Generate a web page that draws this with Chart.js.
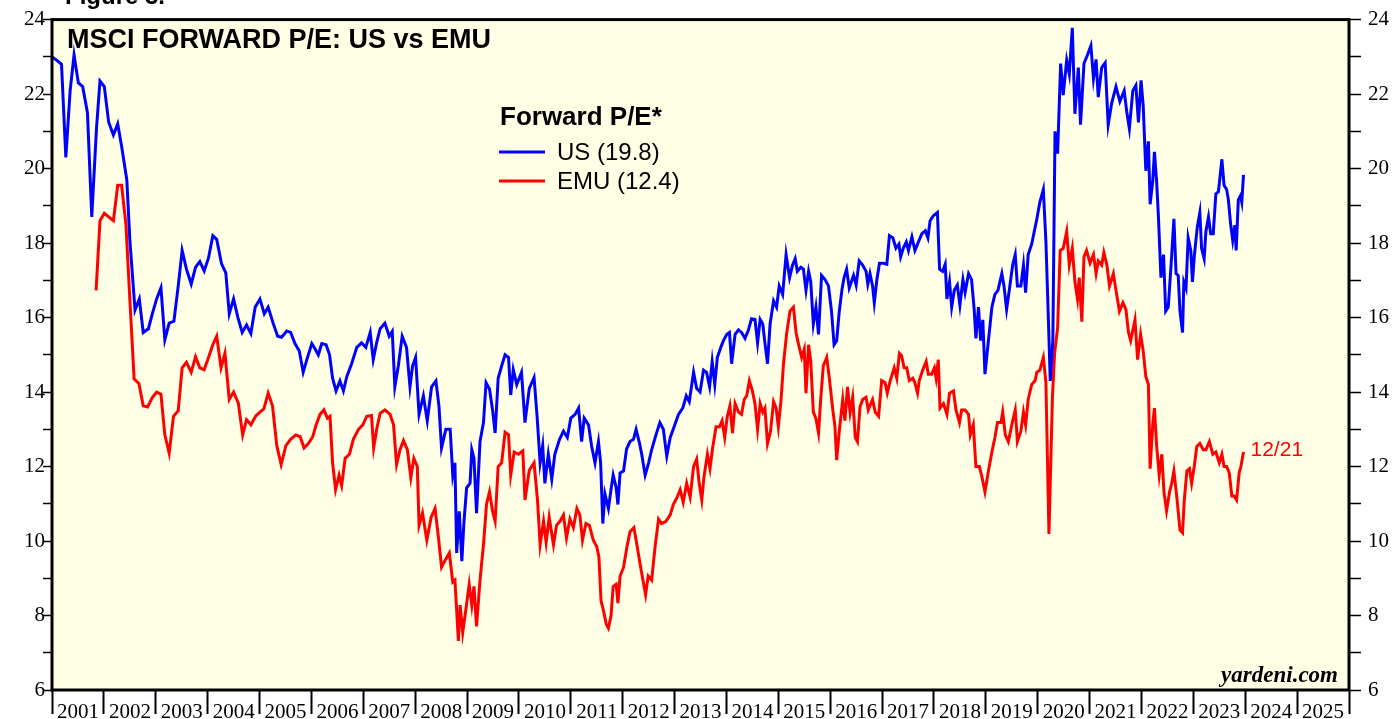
<!DOCTYPE html>
<html>
<head>
<meta charset="utf-8">
<script src="https://cdn.jsdelivr.net/npm/chart.js@4.4.0/dist/chart.umd.min.js"></script>
<style>
  html, body { margin: 0; padding: 0; background: #fff; }
  #wrap { position: relative; width: 1393px; height: 719px; }
</style>
</head>
<body>
<div id="wrap"><canvas id="peChart" width="1393" height="719"></canvas></div>
<script>
// months after Jan 2001 (x) and forward P/E (y)
var usMonth = [0, 1.2, 2.2, 3.2, 4.2, 5.1, 6.1, 7.1, 8.2, 9.2, 10.3, 11.1, 12.1, 13.1, 14.2, 15.2, 16.1, 17.3, 18.0, 19.2,
  20.2, 21.1, 22.3, 23.2, 24.2, 25.2, 26.1, 27.1, 28.2, 29.2, 30.1, 31.1, 32.2, 33.2, 34.2, 35.2, 36.2, 37.2, 38.1, 39.2,
  40.2, 41.0, 42.0, 43.0, 44.0, 45.0, 46.0, 47.0, 48.1, 49.1, 50.0, 51.2, 52.2, 53.1, 54.3, 55.2, 56.2, 57.2, 58.1, 59.1,
  60.1, 60.9, 61.6, 62.4, 63.4, 64.2, 64.9, 65.7, 66.6, 67.4, 68.2, 69.3, 70.5, 71.6, 72.6, 73.6, 74.3, 75.1, 75.9, 77.0,
  78.0, 78.7, 79.3, 80.1, 81.0, 82.0, 82.8, 83.4, 84.1, 84.9, 85.9, 86.8, 87.8, 88.8, 89.5, 90.1, 91.1, 92.1, 92.7, 93.2,
  93.6, 94.2, 94.8, 95.3, 95.9, 96.7, 97.1, 97.6, 98.2, 99.0, 99.8, 100.4, 101.2, 101.9, 102.5, 103.2, 104.0, 104.8, 105.6, 106.1,
  106.7, 107.5, 108.6, 109.4, 110.4, 111.5, 112.2, 112.9, 113.5, 114.0, 114.8, 115.6, 116.3, 117.4, 118.3, 119.2, 120.0, 121.0, 121.8, 122.5,
  123.1, 124.1, 124.8, 125.6, 126.4, 126.9, 127.4, 127.9, 128.7, 129.3, 129.8, 130.5, 130.9, 131.4, 132.2, 132.9, 133.7, 134.5, 135.1, 135.9,
  136.4, 137.2, 138.0, 138.7, 139.7, 140.6, 141.4, 142.2, 143.0, 143.9, 144.9, 145.9, 146.7, 147.4, 148.4, 149.1, 149.9, 150.7, 151.4, 152.1,
  152.7, 153.3, 153.9, 154.7, 155.3, 156.1, 156.7, 157.2, 158.0, 158.8, 159.5, 160.3, 161.1, 161.8, 162.6, 163.2, 163.8, 164.4, 164.9, 165.5,
  166.1, 166.9, 167.6, 168.2, 169.0, 169.8, 170.6, 171.3, 171.9, 172.4, 173.2, 173.8, 174.4, 175.0, 175.5, 176.1, 176.7, 177.3, 178.0, 178.8,
  179.6, 180.3, 180.9, 181.5, 182.1, 182.7, 183.2, 183.8, 184.4, 185.4, 186.0, 186.7, 187.5, 188.3, 188.7, 189.2, 189.8, 190.2, 190.8, 191.4,
  192.2, 193.1, 193.7, 194.5, 195.2, 195.9, 196.3, 196.9, 197.6, 198.1, 198.9, 199.6, 200.4, 201.2, 202.0, 202.6, 203.1, 203.9, 204.8, 205.3,
  206.0, 206.6, 207.0, 207.6, 208.1, 208.7, 209.4, 210.0, 210.7, 211.2, 212.0, 212.7, 213.3, 213.7, 214.3, 214.8, 215.3, 215.8, 216.6, 217.4,
  218.1, 218.8, 219.7, 220.2, 220.8, 221.5, 222.2, 222.8, 223.3, 224.1, 224.7, 225.2, 225.8, 226.6, 227.2, 227.8, 228.5, 229.3, 229.9, 230.5,
  230.9, 231.5, 232.0, 232.6, 233.3, 233.9, 234.7, 235.3, 236.0, 236.6, 237.4, 237.9, 238.7, 239.5, 240.3, 240.9, 241.5, 242.0, 242.8, 243.6,
  244.3, 245.1, 246.1, 247.0, 248.0, 248.6, 249.2, 250.0, 250.7, 251.3, 251.9, 252.4, 253.0, 253.6, 254.0, 254.6, 255.0, 255.5, 255.9, 256.5,
  257.1, 257.6, 258.2, 259.0, 259.5, 260.0, 260.5, 260.9, 261.5, 261.8, 262.3, 262.8, 263.4, 263.8, 264.2, 264.9, 265.5, 265.9, 266.5, 266.9,
  267.5, 268.0, 268.6, 269.2, 269.8, 270.6, 271.1, 271.7, 272.1, 272.6, 273.1, 273.6, 273.9, 274.4, 274.9, 275.2, 275.6];
var usPE = [23.0, 22.9, 22.8, 20.3, 22.1, 23.05, 22.3, 22.2, 21.5, 18.7, 21.1, 22.35, 22.2, 21.25, 20.9, 21.2, 20.6, 19.7, 18.1, 16.2,
  16.5, 15.6, 15.7, 16.1, 16.5, 16.8, 15.4, 15.85, 15.9, 16.85, 17.8, 17.3, 16.9, 17.35, 17.5, 17.25, 17.6, 18.2, 18.1, 17.45,
  17.2, 16.1, 16.5, 16.0, 15.6, 15.8, 15.57, 16.28, 16.5, 16.1, 16.28, 15.83, 15.5, 15.47, 15.64, 15.6, 15.3, 15.1, 14.53, 14.93,
  15.3, 15.15, 15.0, 15.3, 15.27, 15.0, 14.37, 14.03, 14.3, 14.03, 14.42, 14.76, 15.2, 15.32, 15.2, 15.6, 14.87, 15.33, 15.7, 15.85,
  15.5, 15.63, 14.14, 14.7, 15.5, 15.2, 14.14, 14.7, 14.93, 13.4, 13.9, 13.23, 14.14, 14.3, 13.63, 12.5, 13.0, 13.0, 11.77, 12.1,
  9.68, 10.8, 9.46, 10.53, 11.43, 11.55, 12.45, 12.22, 10.75, 12.67, 13.18, 14.25, 14.08, 13.52, 12.9, 14.37, 14.7, 15.0, 14.93, 13.92,
  14.6, 14.2, 14.53, 13.18, 14.1, 14.39, 13.35, 12.1, 12.56, 11.55, 12.33, 11.66, 12.33, 12.73, 12.95, 12.78, 13.3, 13.4, 13.57, 12.67,
  13.3, 13.12, 12.56, 12.1, 12.67, 12.1, 10.47, 11.26, 10.87, 11.38, 11.77, 11.43, 10.98, 11.83, 11.88, 12.47, 12.67, 12.73, 13.0, 12.62,
  12.33, 11.77, 12.1, 12.45, 12.85, 13.18, 13.0, 12.28, 12.78, 13.07, 13.4, 13.57, 13.9, 13.74, 14.53, 14.1, 14.0, 14.59, 14.53, 14.14,
  14.82, 14.2, 14.93, 15.2, 15.38, 15.55, 15.6, 14.76, 15.55, 15.67, 15.6, 15.44, 15.67, 15.97, 15.95, 15.32, 15.95, 15.83, 15.32, 14.76,
  15.83, 16.45, 16.28, 16.85, 16.62, 17.69, 17.07, 17.41, 17.58, 17.24, 17.35, 17.3, 16.73, 17.24, 16.96, 15.83, 16.28, 15.55, 17.13, 17.02,
  16.85, 16.17, 15.27, 15.38, 16.17, 16.73, 17.07, 17.3, 16.79, 17.13, 16.87, 17.52, 17.41, 17.24, 16.9, 17.18, 16.85, 16.4, 17.02, 17.46,
  17.46, 17.43, 18.2, 18.14, 17.86, 17.97, 17.63, 17.86, 18.03, 17.8, 18.17, 17.8, 18.03, 18.25, 18.33, 18.14, 18.6, 18.74, 18.82, 17.3,
  17.24, 17.43, 16.5, 16.96, 16.28, 16.73, 16.87, 16.33, 17.02, 16.67, 17.18, 17.02, 16.22, 15.44, 16.28, 15.38, 15.94, 14.48, 15.38, 16.28,
  16.62, 16.73, 17.18, 16.85, 16.22, 16.8, 17.41, 17.69, 16.85, 16.85, 17.41, 16.67, 17.69, 17.97, 18.31, 18.65, 19.1, 19.44, 18.03, 15.83,
  14.3, 15.38, 21.0, 20.4, 22.82, 21.97, 22.91, 22.54, 23.78, 21.47, 22.71, 21.18, 22.82, 23.05, 23.3, 22.42, 22.93, 21.92, 22.71, 22.84,
  21.18, 21.75, 22.2, 21.8, 22.09, 21.52, 21.07, 22.09, 22.23, 21.24, 22.37, 21.69, 19.94, 20.73, 19.04, 19.66, 20.45, 19.66, 18.76, 17.07,
  17.69, 16.17, 16.28, 17.69, 18.65, 17.18, 17.13, 16.17, 15.6, 16.96, 16.79, 18.14, 17.8, 16.96, 17.63, 18.42, 18.82, 17.86, 17.58, 18.31,
  18.7, 18.25, 18.25, 19.32, 19.38, 20.25, 19.55, 19.44, 19.16, 18.53, 18.08, 18.48, 17.8, 19.16, 19.27, 19.1, 19.83];

var emuMonth = [10.2, 11.1, 12.1, 14.2, 15.2, 16.1, 17.1, 18.0, 19.0, 20.1, 21.1, 22.1, 23.2, 24.2, 25.2, 26.1, 27.1, 28.1, 29.2, 30.1,
  31.1, 32.2, 33.2, 34.2, 35.2, 36.2, 37.2, 38.1, 39.1, 40.0, 41.0, 42.0, 43.1, 44.1, 45.0, 46.0, 47.1, 48.1, 49.0, 50.0,
  51.0, 52.0, 53.0, 54.1, 55.2, 56.4, 57.4, 58.3, 59.3, 60.3, 61.1, 62.0, 62.9, 63.7, 64.3, 64.9, 65.6, 66.4, 67.0, 67.8,
  68.8, 69.7, 70.9, 71.9, 72.8, 73.9, 74.4, 75.1, 75.9, 77.0, 78.2, 79.0, 79.7, 80.5, 81.3, 82.2, 83.0, 83.7, 84.5, 84.9,
  85.7, 86.7, 87.7, 88.6, 89.4, 90.1, 91.1, 91.9, 92.7, 93.2, 94.0, 94.4, 95.0, 95.8, 96.5, 97.1, 97.6, 98.2, 99.0, 99.8,
  100.5, 101.2, 101.9, 102.5, 103.2, 104.0, 104.8, 105.6, 106.1, 106.9, 107.9, 108.9, 109.4, 110.4, 111.5, 112.3, 112.9, 113.7, 114.3, 115.0,
  116.0, 116.7, 117.5, 118.3, 119.0, 119.8, 120.6, 121.4, 122.1, 122.7, 123.5, 124.3, 125.2, 126.0, 126.5, 127.0, 127.5, 128.2, 128.7, 129.3,
  129.8, 130.5, 130.9, 131.4, 132.2, 133.0, 133.7, 134.6, 135.2, 136.0, 136.6, 137.3, 137.9, 138.7, 139.5, 140.3, 141.0, 142.0, 143.0, 143.7,
  144.5, 145.3, 146.0, 146.8, 147.6, 148.4, 149.1, 149.7, 150.3, 150.8, 151.6, 152.2, 152.8, 153.6, 154.4, 155.0, 155.6, 156.2, 156.8, 157.4,
  158.0, 158.8, 159.5, 160.1, 160.7, 161.3, 162.0, 162.6, 163.2, 163.8, 164.4, 164.9, 165.5, 166.2, 166.9, 167.5, 168.0, 168.6, 169.2, 169.9,
  170.7, 171.5, 172.1, 172.6, 173.4, 174.0, 174.4, 175.0, 175.5, 176.1, 176.7, 177.3, 177.8, 178.4, 179.2, 179.8, 180.6, 181.1, 181.5, 182.1,
  182.9, 183.4, 184.0, 184.6, 185.2, 185.8, 186.3, 186.9, 187.5, 188.3, 188.8, 189.8, 190.4, 191.2, 191.9, 192.7, 193.2, 193.9, 194.8, 195.4,
  196.0, 196.5, 197.1, 197.7, 198.3, 199.1, 199.6, 200.2, 200.6, 201.4, 202.2, 202.7, 203.5, 204.1, 204.5, 205.0, 205.4, 206.2, 207.0, 207.6,
  208.5, 209.1, 209.9, 210.4, 211.2, 212.0, 212.4, 213.1, 213.7, 214.5, 215.1, 215.8, 216.6, 217.4, 218.1, 218.7, 219.5, 219.9, 220.5, 221.2,
  221.8, 222.2, 222.8, 223.3, 224.1, 224.7, 225.2, 225.8, 226.6, 227.4, 227.8, 228.5, 229.3, 229.9, 230.6, 231.4, 231.9, 232.6, 233.2, 233.9,
  234.7, 235.3, 236.0, 236.6, 237.2, 237.6, 238.2, 238.7, 239.3, 240.1, 240.9, 241.5, 242.0, 242.8, 243.3, 244.0, 244.6, 245.5, 246.1, 246.9,
  247.7, 248.4, 249.0, 249.5, 250.5, 251.1, 251.8, 252.4, 253.0, 253.6, 254.0, 254.6, 255.0, 255.5, 256.1, 256.7, 257.2, 257.8, 258.5, 259.0,
  259.5, 260.2, 260.9, 261.5, 261.9, 262.5, 263.1, 263.6, 264.2, 264.8, 265.5, 266.3, 266.9, 267.7, 268.5, 269.2, 270.0, 270.6, 271.1, 271.7,
  272.3, 272.9, 273.4, 274.0, 274.6, 275.0, 275.6];
var emuPE = [16.73, 18.6, 18.8, 18.6, 19.55, 19.55, 18.5, 16.5, 14.35, 14.23, 13.63, 13.6, 13.85, 14.0, 13.94, 12.85, 12.36, 13.35, 13.5, 14.65,
  14.8, 14.53, 14.95, 14.65, 14.6, 14.93, 15.27, 15.5, 14.65, 15.04, 13.8, 14.0, 13.7, 12.85, 13.26, 13.12, 13.35, 13.46, 13.55, 13.97,
  13.63, 12.56, 12.05, 12.56, 12.73, 12.85, 12.8, 12.5, 12.62, 12.8, 13.12, 13.4, 13.52, 13.3, 13.35, 12.1, 11.38, 11.77, 11.49, 12.22,
  12.33, 12.73, 13.0, 13.12, 13.35, 13.37, 12.5, 13.0, 13.43, 13.52, 13.4, 13.12, 12.05, 12.45, 12.7, 12.45, 11.7, 12.22, 12.0, 10.42,
  10.75, 10.02, 10.64, 10.87, 10.08, 9.3, 9.52, 9.68, 8.9, 8.95, 7.32, 8.28, 7.54, 8.22, 8.84, 8.28, 8.78, 7.71, 8.95, 9.9,
  10.98, 11.32, 10.8, 10.53, 12.0, 12.1, 12.92, 12.85, 11.77, 12.39, 12.33, 12.42, 11.1, 11.9, 12.1, 11.1, 9.9, 10.53, 9.96, 10.64,
  9.9, 10.42, 10.53, 10.7, 10.08, 10.59, 10.36, 10.87, 10.7, 10.02, 10.47, 10.42, 10.02, 9.85, 9.57, 8.39, 8.16, 7.77, 7.66, 7.99,
  8.78, 8.84, 8.33, 9.06, 9.29, 9.85, 10.25, 10.36, 9.96, 9.4, 9.01, 8.56, 9.06, 8.95, 9.85, 10.59, 10.47, 10.53, 10.7, 10.98,
  11.15, 11.38, 11.04, 11.55, 11.18, 12.0, 12.2, 11.55, 11.1, 11.72, 12.33, 11.94, 12.5, 13.07, 13.07, 13.23, 12.78, 13.35, 13.63, 12.9,
  13.69, 13.46, 13.4, 13.8, 13.9, 14.3, 14.03, 13.69, 13.0, 13.69, 13.46, 13.57, 12.62, 12.95, 13.74, 13.57, 13.07, 13.74, 14.76, 15.55,
  16.17, 16.28, 15.6, 15.32, 14.93, 15.15, 13.97, 15.27, 14.82, 13.46, 13.29, 12.9, 13.8, 14.7, 14.93, 14.37, 13.52, 13.07, 12.17, 12.95,
  13.8, 13.23, 14.14, 13.45, 13.86, 12.78, 12.67, 13.6, 13.8, 13.86, 13.52, 13.8, 13.46, 13.35, 14.31, 14.25, 13.97, 14.31, 14.65, 14.37,
  15.04, 14.98, 14.65, 14.65, 14.31, 14.37, 14.25, 13.97, 14.31, 14.59, 14.82, 14.48, 14.48, 14.65, 14.37, 14.87, 13.57, 13.69, 13.4, 13.97,
  14.03, 13.52, 13.18, 13.52, 13.52, 13.4, 12.85, 13.12, 12.0, 12.0, 11.72, 11.32, 11.88, 12.39, 12.78, 13.18, 13.18, 13.46, 12.85, 12.67,
  13.0, 13.23, 13.52, 12.67, 12.95, 13.46, 13.12, 13.8, 14.2, 14.31, 14.53, 14.59, 14.93, 14.25, 10.19, 13.86, 15.04, 15.72, 17.8, 17.86,
  18.31, 17.41, 17.86, 16.96, 16.5, 17.07, 15.89, 17.63, 17.8, 17.46, 17.69, 17.18, 17.52, 17.41, 17.75, 17.41, 16.85, 17.18, 16.73, 16.17,
  16.4, 16.22, 15.6, 15.38, 15.94, 14.87, 15.55, 15.1, 14.42, 14.2, 11.94, 13.12, 13.57, 12.56, 11.77, 12.33, 11.32, 10.81, 11.32, 11.55,
  11.88, 11.15, 10.3, 10.22, 11.1, 11.88, 11.94, 11.55, 12.0, 12.54, 12.62, 12.45, 12.45, 12.67, 12.33, 12.39, 12.1, 12.33, 12.0, 12.0,
  11.83, 11.21, 11.21, 11.1, 11.83, 12.0, 12.39];

var yearLabels = ['2001', '2002', '2003', '2004', '2005', '2006', '2007', '2008', '2009', '2010', '2011', '2012', '2013',
  '2014', '2015', '2016', '2017', '2018', '2019', '2020', '2021', '2022', '2023', '2024', '2025'];
var seriesNames = ['US (19.8)', 'EMU (12.4)'];
var lastDate = '12/21';

function toPoints(xs, ys) {
    return xs.map(function (x, i) { return { x: x, y: ys[i] }; });
}

var serif = '"Liberation Serif", "Times New Roman", serif';
var sans = '"Liberation Sans", Arial, sans-serif';

var decorPlugin = {
    id: 'decor',
    beforeDraw: function (chart) {
        var ctx = chart.ctx, a = chart.chartArea;
        ctx.save();
        ctx.fillStyle = '#ffffff';
        ctx.fillRect(0, 0, chart.width, chart.height);
        ctx.fillStyle = '#ffffe5';
        ctx.fillRect(a.left, a.top, a.right - a.left, a.bottom - a.top);
        ctx.restore();
    },
    afterDraw: function (chart) {
        var ctx = chart.ctx, a = chart.chartArea;
        var ds = chart.data.datasets;
        ctx.save();
        // frame
        ctx.strokeStyle = '#000';
        ctx.lineWidth = 3;
        ctx.strokeRect(a.left, a.top, a.right - a.left, a.bottom - a.top);

        ctx.fillStyle = '#000';
        ctx.textBaseline = 'alphabetic';
        ctx.font = 'bold 24px ' + sans;
        ctx.fillText('Figure 3.', 65, 4);

        ctx.font = 'bold 27px ' + sans;
        ctx.fillText('MSCI FORWARD P/E: US vs EMU', 67, 48);

        // legend
        ctx.font = 'bold 26px ' + sans;
        ctx.fillText('Forward P/E*', 500, 125);
        ctx.font = '24px ' + sans;
        ds.forEach(function (d, i) {
            var y = 152 + i * 29;
            ctx.strokeStyle = d.borderColor;
            ctx.lineWidth = 3;
            ctx.beginPath();
            ctx.moveTo(499, y);
            ctx.lineTo(545, y);
            ctx.stroke();
            ctx.fillStyle = '#000';
            ctx.textBaseline = 'middle';
            ctx.fillText(d.label, 557, y + 1);
        });

        // end label on the EMU line
        var xs = chart.scales.x, ys = chart.scales.y;
        var n = emuMonth.length - 1;
        ctx.fillStyle = '#ff0000';
        ctx.font = '21px ' + sans;
        ctx.textBaseline = 'middle';
        ctx.fillText(lastDate, xs.getPixelForValue(emuMonth[n]) + 7, ys.getPixelForValue(emuPE[n]) - 2);

        ctx.fillStyle = '#000';
        ctx.font = 'bold italic 23px ' + serif;
        ctx.textAlign = 'right';
        ctx.textBaseline = 'alphabetic';
        ctx.fillText('yardeni.com', a.right - 11, a.bottom - 8);
        ctx.restore();
    }
};

var yTicks = {
    stepSize: 1,
    color: '#000',
    font: { family: serif, size: 21 },
    callback: function (v) { return v % 2 === 0 ? String(v) : ''; }
};

var ctx = document.getElementById('peChart').getContext('2d');
new Chart(ctx, {
    type: 'line',
    data: {
        datasets: [{
            label: seriesNames[0],
            data: toPoints(usMonth, usPE),
            borderColor: '#0000ff',
            borderWidth: 3,
            pointRadius: 0,
            tension: 0
        }, {
            label: seriesNames[1],
            data: toPoints(emuMonth, emuPE),
            borderColor: '#ff0000',
            borderWidth: 3,
            pointRadius: 0,
            tension: 0
        }]
    },
    options: {
        responsive: false,
        animation: false,
        events: [],
        layout: { padding: { top: 18, left: 0, right: 0, bottom: 0 } },
        plugins: {
            legend: { display: false },
            tooltip: { enabled: false },
            title: { display: false }
        },
        scales: {
            x: {
                type: 'linear',
                min: 0,
                max: 300,
                afterBuildTicks: function (scale) {
                    var t = [];
                    for (var m = 0; m <= 300; m += 12) t.push({ value: m });
                    scale.ticks = t;
                },
                afterFit: function (scale) { scale.height = 29; },
                border: { display: false },
                grid: { drawOnChartArea: false, drawTicks: true, tickLength: 24, tickColor: '#000', tickWidth: 2 },
                ticks: {
                    autoSkip: false,
                    maxRotation: 0,
                    labelOffset: 26,
                    padding: -14,
                    color: '#000',
                    font: { family: serif, size: 21 },
                    callback: function (v) { return yearLabels[v / 12] || ''; }
                }
            },
            y: {
                position: 'left',
                min: 6,
                max: 24,
                afterFit: function (scale) { scale.width = 52; },
                border: { display: false },
                grid: { drawOnChartArea: false, drawTicks: true, tickLength: 9, tickColor: '#000', tickWidth: 1.5 },
                ticks: Object.assign({ padding: -2 }, yTicks)
            },
            y2: {
                position: 'right',
                min: 6,
                max: 24,
                afterFit: function (scale) { scale.width = 44; },
                border: { display: false },
                grid: { drawOnChartArea: false, drawTicks: true, tickLength: 12, tickColor: '#000', tickWidth: 1.5 },
                ticks: Object.assign({ padding: 7 }, yTicks)
            }
        }
    },
    plugins: [decorPlugin]
});
</script>
</body>
</html>
